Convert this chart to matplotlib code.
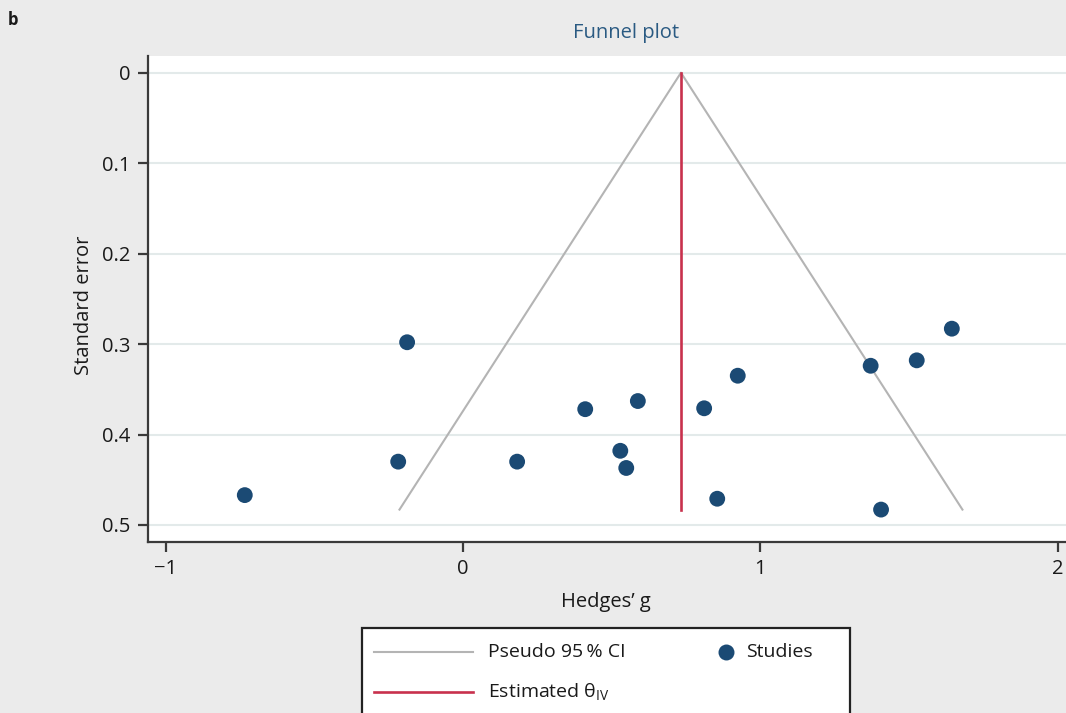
import matplotlib
matplotlib.use("Agg")
import matplotlib.pyplot as plt
from matplotlib.patches import Rectangle
from matplotlib.lines import Line2D

plt.rcParams['font.family'] = ['Open Sans', 'DejaVu Sans']
plt.rcParams['mathtext.fontset'] = 'custom'
plt.rcParams['mathtext.rm'] = 'Open Sans'
plt.rcParams['mathtext.it'] = 'Open Sans'

# Study effect sizes (Hedges' g) and their standard errors
hedges_g = [-0.734, -0.188, -0.218, 0.182, 0.411, 0.588, 0.529, 0.549,
            0.811, 0.924, 0.855, 1.371, 1.526, 1.644, 1.406]
std_err = [0.467, 0.298, 0.430, 0.430, 0.372, 0.363, 0.418, 0.437,
           0.371, 0.335, 0.471, 0.324, 0.318, 0.283, 0.483]
theta_iv = 0.733          # inverse-variance pooled estimate
x_ticks = [-1, 0, 1, 2]
x_tick_labels = ["\u22121", "0", "1", "2"]
y_ticks = [0, 0.1, 0.2, 0.3, 0.4, 0.5]
y_tick_labels = ["0", "0.1", "0.2", "0.3", "0.4", "0.5"]

CI_COLOR = "#b4b4b4"
EST_COLOR = "#c8314d"
DOT_COLOR = "#1b4a74"

W, H = 1066, 713
fig = plt.figure(figsize=(W / 100, H / 100), dpi=100)
bg = "#ebebeb"
fig.patch.set_facecolor(bg)


def fx(px):
    return px / W


def fy(py):
    return 1 - py / H


ax = fig.add_axes([fx(148), fy(541.7), (W - 148) / W, (541.7 - 56) / H])
ax.set_facecolor("white")

# Pseudo 95% confidence limits
se_max = max(std_err)
ci_x = [theta_iv - 1.96 * se_max, theta_iv, theta_iv + 1.96 * se_max]
ci_y = [se_max, 0, se_max]
ax.plot(ci_x, ci_y, color=CI_COLOR, lw=1.5, zorder=2)

# Pooled estimate
ax.plot([theta_iv, theta_iv], [0, se_max], color=EST_COLOR, lw=1.9, zorder=3)

# Studies
ax.scatter(hedges_g, std_err, s=130, color=DOT_COLOR, edgecolors="none", zorder=4)

ax.set_xlim(-1.0595, 2.028)
ax.set_ylim(0.5185, -0.01846)

ax.set_xticks(x_ticks)
ax.set_xticklabels(x_tick_labels)
ax.set_yticks(y_ticks)
ax.set_yticklabels(y_tick_labels)
ax.yaxis.grid(True, color="#e3eaea", lw=1.5)
ax.xaxis.grid(False)
ax.set_axisbelow(True)

for side in ("top", "right"):
    ax.spines[side].set_visible(False)
for side in ("left", "bottom"):
    ax.spines[side].set_color("#3a3a3a")
    ax.spines[side].set_linewidth(1.6)
ax.tick_params(axis="both", colors="#3a3a3a", width=1.6, length=7.4,
               labelsize=14.5, labelcolor="#1a1a1a", pad=5)

fig.text(fx(626), fy(33), "Funnel plot", ha="center", va="center",
         fontsize=14.5, color="#2a5a82")
fig.text(fx(606), fy(602), "Hedges\u2019 g", ha="center", va="center",
         fontsize=14.5, color="#1a1a1a")
fig.text(fx(84), fy(305), "Standard error", ha="center", va="center",
         rotation=90, fontsize=14.5, color="#1a1a1a")
fig.text(fx(13), fy(20), "b", ha="center", va="center",
         fontsize=12, fontweight="bold", color="#1a1a1a")

# Legend box (runs past the bottom edge)
box = Rectangle((fx(362), fy(740)), (850 - 362) / W, (740 - 628) / H,
                transform=fig.transFigure, facecolor="white",
                edgecolor="#222222", lw=1.6, zorder=5)
fig.patches.append(box)

row1, row2 = 652, 692
fig.add_artist(Line2D([fx(374), fx(473)], [fy(row1), fy(row1)],
                      transform=fig.transFigure, color=CI_COLOR, lw=1.5, zorder=6))
fig.add_artist(Line2D([fx(374), fx(473)], [fy(row2), fy(row2)],
                      transform=fig.transFigure, color=EST_COLOR, lw=1.9, zorder=6))
fig.add_artist(Line2D([fx(726)], [fy(row1)], transform=fig.transFigure,
                      marker="o", ls="none", color=DOT_COLOR, markersize=11.5,
                      markeredgewidth=0, zorder=6))
legend_kw = dict(ha="left", va="center", fontsize=14, color="#1a1a1a", zorder=7)
fig.text(fx(488), fy(row1), "Pseudo 95\u2009% CI", **legend_kw)
fig.text(fx(488), fy(row2), r"Estimated $\theta_{\mathrm{IV}}$", **legend_kw)
fig.text(fx(746), fy(row1), "Studies", **legend_kw)

fig.savefig("out.png", dpi=100, facecolor=bg)
